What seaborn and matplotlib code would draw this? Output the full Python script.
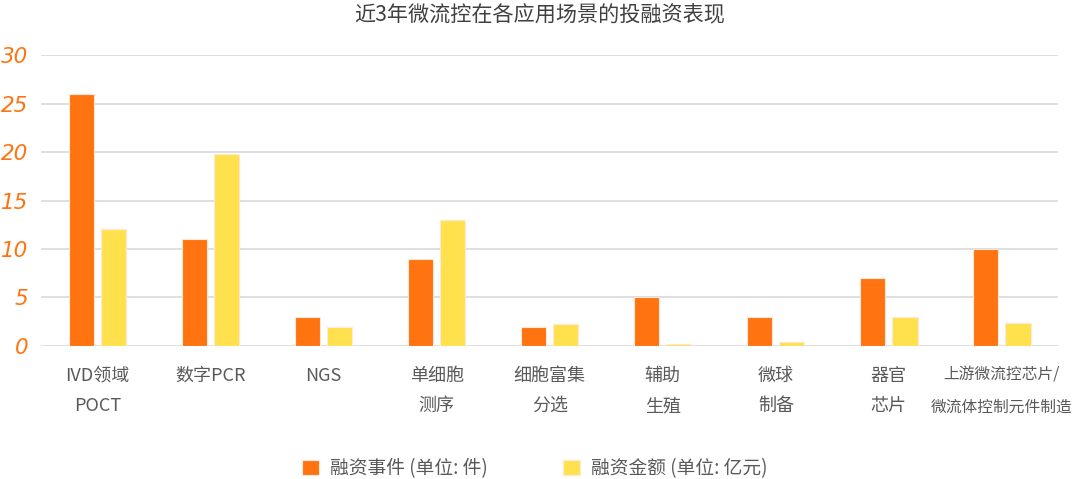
import pandas as pd
import numpy as np
import matplotlib
matplotlib.use("Agg")
import matplotlib.pyplot as plt
import seaborn as sns

# data
categories = ["IVD领域\nPOCT", "数字PCR", "NGS", "单细胞\n测序", "细胞富集\n分选",
              "辅助\n生殖", "微球\n制备", "器官\n芯片", "上游微流控芯片/\n微流体控制元件制造"]
events = [26, 11, 3, 9, 2, 5, 3, 7, 10]          # 融资事件 (单位: 件)
amounts = [12.1, 19.8, 2.0, 13.0, 2.3, 0.2, 0.4, 3.0, 2.4]  # 融资金额 (单位: 亿元)
series_names = ["融资事件 (单位: 件)", "融资金额 (单位: 亿元)"]
yticks = [0, 5, 10, 15, 20, 25, 30]

df = pd.DataFrame({
    "cat": categories * 2,
    "value": events + amounts,
    "series": [series_names[0]] * len(categories) + [series_names[1]] * len(categories),
})

sns.set_theme(style="white")
plt.rcParams["font.family"] = ["Noto Sans CJK SC", "DejaVu Sans"]

fig = plt.figure(figsize=(10.8, 4.79), dpi=100)
ax = fig.add_axes([0.038, 0.2777, 0.942, 0.6073])

sns.barplot(data=df, x="cat", y="value", hue="series", order=categories,
            hue_order=series_names, palette=["#FF7410", "#FFE14D"], saturation=1,
            width=0.57, gap=0.22, edgecolor="#FFE8D8", linewidth=0.8,
            errorbar=None, ax=ax)

ax.set_ylim(0, 30)
ax.set_xlim(-0.5, len(categories) - 0.5)
ax.set_yticks(yticks)
ax.set_yticklabels([str(t) for t in yticks], color="#FF7410", fontsize=15.5,
                   style="italic", family="DejaVu Sans")
ax.yaxis.grid(True, color="#D9D9D9", linewidth=1.2)
ax.set_axisbelow(True)
for s in ax.spines.values():
    s.set_visible(False)
ax.tick_params(axis="y", length=0, pad=9)
ax.tick_params(axis="x", length=0, pad=15)
ax.set_xticks(range(len(categories)))
ax.set_xticklabels(categories, fontsize=13, color="#595959", linespacing=1.87)
# the last label is long, the original shrinks it
last = ax.get_xticklabels()[-1]
last.set_fontsize(11.3)
last.set_linespacing(2.15)
ax.set_xlabel("")
ax.set_ylabel("")

fig.suptitle("近3年微流控在各应用场景的投融资表现", fontsize=15.2, color="#404040", y=0.99)

handles, labels = ax.get_legend_handles_labels()
ax.get_legend().remove()
fig.legend(handles, labels, loc="lower center", ncol=2, frameon=False,
           bbox_to_anchor=(0.495, -0.035), fontsize=13.5, handlelength=0.9,
           handleheight=0.9, handletextpad=0.6, columnspacing=4.0, labelcolor="#595959")

plt.savefig("out.png", dpi=100)
